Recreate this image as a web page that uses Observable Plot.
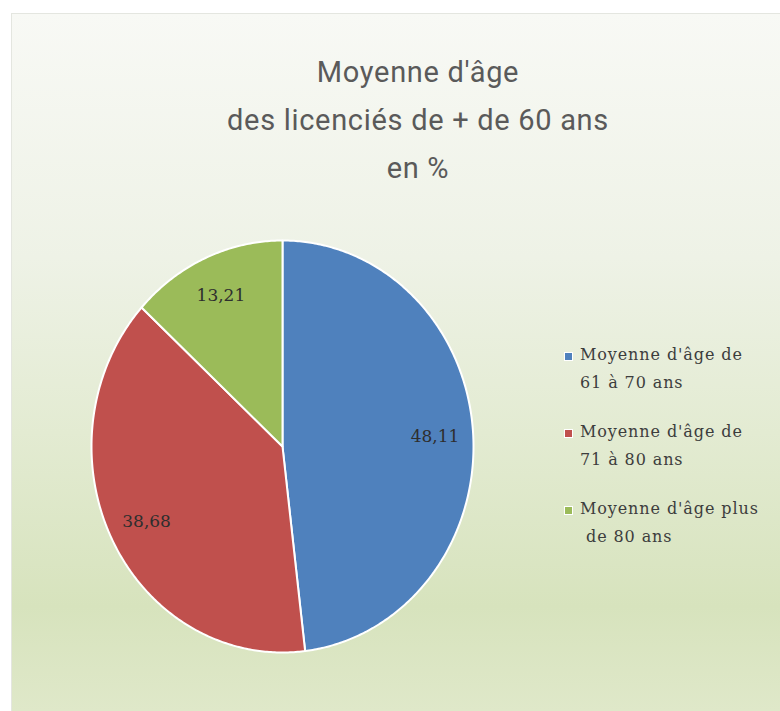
<!DOCTYPE html>
<html><head><meta charset="utf-8">
<script src="https://cdn.jsdelivr.net/npm/d3@7"></script>
<script src="https://cdn.jsdelivr.net/npm/@observablehq/plot@0.6"></script>
<style>
html,body{margin:0;padding:0;background:#fff;}
body{width:780px;height:711px;overflow:hidden;position:relative;}
#panel{position:absolute;left:11px;top:13px;right:0;bottom:0;
  border-left:1px solid #e4e6e0;border-top:1px solid #e4e6e0;
  background:linear-gradient(to bottom,#f8f9f5 0%,#eef2e6 35%,#e3ebd2 60%,#d7e3bd 85%,#dfe8c9 100%);}
#title{position:absolute;left:168px;width:500px;top:48px;text-align:center;
  font-family:Roboto,"Open Sans",sans-serif;font-size:29px;letter-spacing:0.7px;line-height:48px;color:#5a5a5a;}
#chart{position:absolute;left:0;top:0;}
#legend{position:absolute;left:560px;top:341px;font-family:"DejaVu Serif",serif;font-size:16px;
  letter-spacing:0.9px;color:#3d3d3d;}
.item{position:relative;padding-left:20px;margin-bottom:21px;line-height:28px;}
.sw{position:absolute;left:4px;top:11px;width:7px;height:7px;border:1px solid #fff;}
</style></head><body>
<div id="panel"></div>
<div id="title"></div>
<div id="chart"></div>
<div id="legend"></div>
<script>
const titleLines = ["Moyenne d'âge", "des licenciés de + de 60 ans", "en %"];
const categories = ["Moyenne d'âge de 61 à 70 ans", "Moyenne d'âge de 71 à 80 ans", "Moyenne d'âge plus de 80 ans"];
const legendLines = [["Moyenne d'âge de", "61 à 70 ans"], ["Moyenne d'âge de", "71 à 80 ans"], ["Moyenne d'âge plus", " de 80 ans"]];
const values = [48.11, 38.68, 13.21];
const valueLabels = ["48,11", "38,68", "13,21"];
const colors = ["#4f81bd", "#c0504d", "#9bbb59"];

// title
const t = document.getElementById("title");
titleLines.forEach(l => { const d = document.createElement("div"); d.textContent = l; t.appendChild(d); });

// legend
const lg = document.getElementById("legend");
categories.forEach((c, i) => {
  const it = document.createElement("div"); it.className = "item";
  const sw = document.createElement("span"); sw.className = "sw"; sw.style.background = colors[i];
  it.appendChild(sw);
  legendLines[i].forEach(l => { const d = document.createElement("div"); d.textContent = l; d.style.whiteSpace = "pre"; it.appendChild(d); });
  lg.appendChild(it);
});

// pie geometry from data
const rows = categories.map((c, i) => ({cat: c, value: values[i], label: valueLabels[i], color: colors[i]}));
const arcs = d3.pie().sort(null).value(d => d.value)(rows);
const wedges = arcs.map(a => {
  const pts = [{x: 0, y: 0}];
  const n = Math.max(2, Math.ceil((a.endAngle - a.startAngle) / 0.01));
  for (let k = 0; k <= n; k++) {
    const ang = a.startAngle + (a.endAngle - a.startAngle) * k / n;
    pts.push({x: Math.sin(ang), y: Math.cos(ang)});
  }
  return {color: a.data.color, pts};
});
const labelR = 0.8;
const labels = arcs.map(a => {
  const m = (a.startAngle + a.endAngle) / 2;
  return {x: labelR * Math.sin(m), y: labelR * Math.cos(m), label: a.data.label};
});

const chart = Plot.plot({
  width: 780, height: 711,
  x: {domain: [-1, 1], range: [91, 473], axis: null},
  y: {domain: [-1, 1], range: [652, 240], axis: null},
  style: {background: "transparent", overflow: "visible"},
  marks: [
    ...wedges.map(w => Plot.line(w.pts, {x: "x", y: "y", fill: w.color, stroke: "#ffffff", strokeWidth: 2, curve: "linear-closed", strokeLinejoin: "round"})),
    Plot.text(labels, {x: "x", y: "y", text: "label", fill: "#2e2e2e", fontSize: 17,
      fontFamily: "DejaVu Serif, serif", letterSpacing: 0.5})
  ]
});
document.getElementById("chart").appendChild(chart);
</script>
</body></html>
